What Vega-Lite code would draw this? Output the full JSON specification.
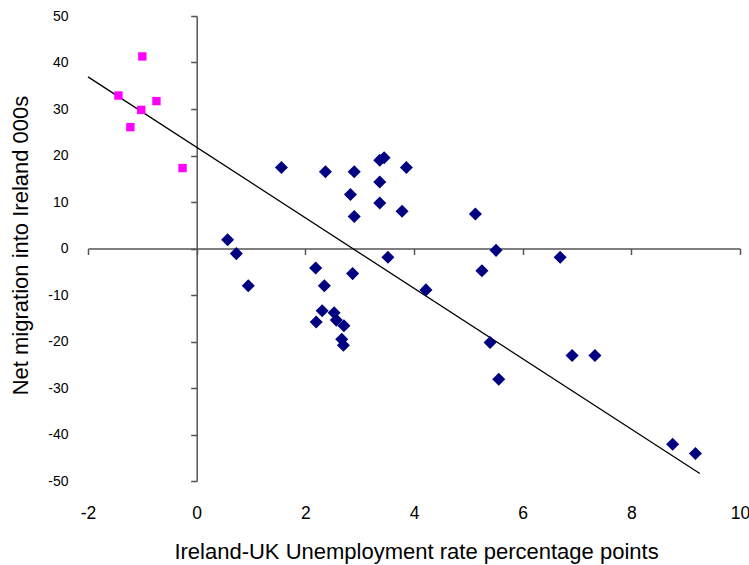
{
  "$schema": "https://vega.github.io/schema/vega-lite/v6.json",
  "width": 652,
  "height": 465,
  "autosize": "none",
  "padding": {"left": 88, "top": 16, "right": 9, "bottom": 84},
  "background": "white",
  "config": {"view": {"stroke": null}, "font": "Liberation Sans"},
  "datasets": {
    "pts": [
      {"x": 1.56, "y": 17.4, "s": "A"}, {"x": 2.37, "y": 16.5, "s": "A"}, {"x": 2.90, "y": 16.5, "s": "A"},
      {"x": 3.37, "y": 19.0, "s": "A"}, {"x": 3.45, "y": 19.5, "s": "A"}, {"x": 3.86, "y": 17.4, "s": "A"},
      {"x": 3.37, "y": 14.3, "s": "A"}, {"x": 2.83, "y": 11.6, "s": "A"}, {"x": 3.37, "y": 9.8, "s": "A"},
      {"x": 3.78, "y": 8.0, "s": "A"}, {"x": 2.90, "y": 6.9, "s": "A"}, {"x": 0.57, "y": 1.9, "s": "A"},
      {"x": 0.73, "y": -1.1, "s": "A"}, {"x": 3.52, "y": -1.9, "s": "A"}, {"x": 2.19, "y": -4.2, "s": "A"},
      {"x": 2.87, "y": -5.4, "s": "A"}, {"x": 0.95, "y": -8.0, "s": "A"}, {"x": 2.35, "y": -8.0, "s": "A"},
      {"x": 4.22, "y": -8.9, "s": "A"}, {"x": 2.31, "y": -13.4, "s": "A"}, {"x": 2.53, "y": -13.8, "s": "A"},
      {"x": 2.20, "y": -15.8, "s": "A"}, {"x": 2.57, "y": -15.4, "s": "A"}, {"x": 2.71, "y": -16.6, "s": "A"},
      {"x": 2.67, "y": -19.5, "s": "A"}, {"x": 2.70, "y": -20.8, "s": "A"}, {"x": 5.13, "y": 7.4, "s": "A"},
      {"x": 5.51, "y": -0.4, "s": "A"}, {"x": 6.69, "y": -1.9, "s": "A"}, {"x": 5.25, "y": -4.8, "s": "A"},
      {"x": 5.40, "y": -20.2, "s": "A"}, {"x": 6.91, "y": -23.0, "s": "A"}, {"x": 7.33, "y": -23.0, "s": "A"},
      {"x": 5.56, "y": -28.1, "s": "A"}, {"x": 8.76, "y": -42.1, "s": "A"}, {"x": 9.18, "y": -44.1, "s": "A"},
      {"x": -1.0, "y": 41.3, "s": "B"}, {"x": -1.44, "y": 32.9, "s": "B"}, {"x": -0.74, "y": 31.7, "s": "B"},
      {"x": -1.02, "y": 29.8, "s": "B"}, {"x": -1.22, "y": 26.1, "s": "B"}, {"x": -0.26, "y": 17.3, "s": "B"}
    ],
    "fit": [
      {"x": -2.0, "y": 36.9},
      {"x": 9.26, "y": -48.4}
    ]
  },
  "resolve": {"axis": {"x": "independent", "y": "independent"}},
  "layer": [
    {
      "data": {"name": "fit"},
      "mark": {"type": "line", "color": "black", "strokeWidth": 1.3},
      "encoding": {
        "x": {"field": "x", "type": "quantitative",
          "scale": {"domain": [-2, 10], "nice": false, "zero": false},
          "axis": {"orient": "bottom", "offset": -232.5, "values": [-2, 0, 2, 4, 6, 8, 10], "labels": false, "title": null,
            "domain": true, "domainColor": "#555", "domainWidth": 1.5, "ticks": true, "tickSize": 6, "tickColor": "#555", "tickWidth": 1.5, "grid": false}},
        "y": {"field": "y", "type": "quantitative",
          "scale": {"domain": [-50, 50], "nice": false, "zero": false},
          "axis": {"orient": "left", "offset": -108.7, "values": [-50, -40, -30, -20, -10, 0, 10, 20, 30, 40, 50], "labels": false, "title": null,
            "domain": true, "domainColor": "#555", "domainWidth": 1.5, "ticks": true, "tickSize": 6, "tickColor": "#555", "tickWidth": 1.5, "grid": false}}
      }
    },
    {
      "data": {"name": "pts"},
      "mark": {"type": "point", "filled": true, "opacity": 1},
      "encoding": {
        "x": {"field": "x", "type": "quantitative",
          "scale": {"domain": [-2, 10], "nice": false, "zero": false},
          "axis": {"orient": "bottom", "values": [-2, 0, 2, 4, 6, 8, 10], "labelExpr": "'' + datum.value", "domain": false, "ticks": false, "tickSize": 0, "grid": false,
            "labelPadding": 23, "labelFontSize": 17.5, "labelFont": "Liberation Sans", "labelColor": "black", "labelFlush": false, "labelOverlap": false,
            "title": "Ireland-UK Unemployment rate percentage points", "titleFont": "Liberation Sans", "titleFontSize": 22, "titleFontWeight": "normal", "titleColor": "black",
            "titleBaseline": "alphabetic", "titleY": 77, "titleX": 328}},
        "y": {"field": "y", "type": "quantitative",
          "scale": {"domain": [-50, 50], "nice": false, "zero": false},
          "axis": {"orient": "left", "values": [-50, -40, -30, -20, -10, 0, 10, 20, 30, 40, 50], "labelExpr": "'' + datum.value", "domain": false, "ticks": false, "tickSize": 0, "grid": false,
            "labelPadding": 20, "labelFontSize": 14, "labelFont": "Liberation Sans", "labelColor": "black", "labelFlush": false, "labelOverlap": false,
            "title": "Net migration into Ireland 000s", "titleFont": "Liberation Sans", "titleFontSize": 22, "titleFontWeight": "normal", "titleColor": "black",
            "titleBaseline": "alphabetic", "titleAngle": -90, "titleX": -61, "titleY": 229}},
        "color": {"field": "s", "type": "nominal", "legend": null,
          "scale": {"domain": ["A", "B"], "range": ["#000080", "#FF00FF"]}},
        "shape": {"field": "s", "type": "nominal", "legend": null,
          "scale": {"domain": ["A", "B"], "range": ["diamond", "square"]}},
        "size": {"field": "s", "type": "nominal", "legend": null,
          "scale": {"domain": ["A", "B"], "range": [170, 70]}}
      }
    }
  ]
}
